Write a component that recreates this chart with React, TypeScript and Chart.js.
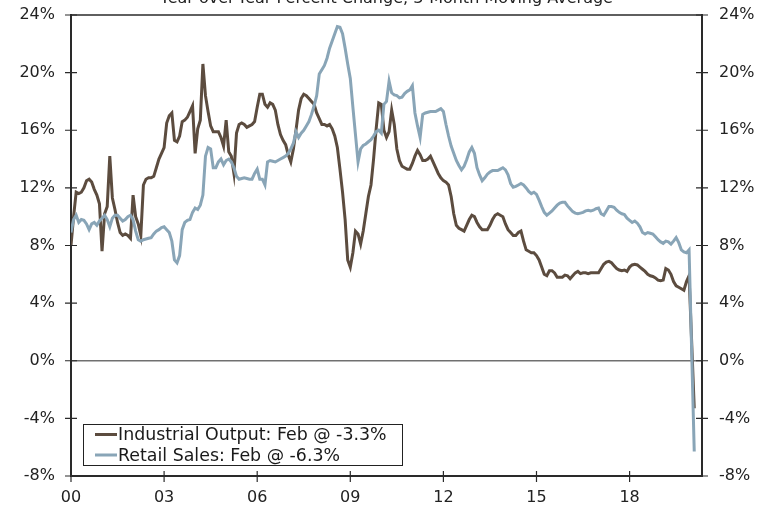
import React, { useEffect, useRef } from "react";
import { Chart, registerables } from "chart.js";

Chart.register(...registerables);

// Monthly data, Jan 2000 .. Feb 2020 (index 0 = Jan 2000). Jan 2020 not reported (null).
const industrialOutput: (number | null)[] = [
  8.0, 10.0, 11.7, 11.6, 11.7, 12.0, 12.5, 12.6, 12.4, 11.9, 11.5, 10.9,
  7.6, 10.2, 10.7, 14.2, 11.3, 10.5, 9.6, 8.9, 8.7, 8.8, 8.7, 8.5,
  11.5, 10.0, 9.5, 8.7, 12.2, 12.6, 12.7, 12.7, 12.8, 13.4, 14.0, 14.4,
  14.8, 16.5, 17.0, 17.2, 15.3, 15.2, 15.6, 16.6, 16.7, 16.9, 17.3, 17.7,
  14.4, 16.1, 16.7, 20.6, 18.4, 17.3, 16.3, 15.9, 15.9, 15.9, 15.5, 14.9,
  16.7, 14.5, 14.2, 13.0, 15.8, 16.4, 16.5, 16.4, 16.2, 16.3, 16.4, 16.6,
  17.6, 18.5, 18.5, 17.8, 17.6, 17.9, 17.8, 17.4, 16.4, 15.7, 15.3, 15.0,
  14.3, 13.8, 14.7, 16.0, 17.4, 18.2, 18.5, 18.4, 18.2, 18.0, 17.8, 17.2,
  16.8, 16.4, 16.4, 16.3, 16.4, 16.1, 15.6, 14.8, 13.3, 11.7, 9.8, 7.0,
  6.5, 7.5, 9.0, 8.8, 8.1, 9.0, 10.2, 11.4, 12.2, 14.0, 16.1, 17.9,
  17.8, 16.0, 15.5, 15.9, 17.4, 16.4, 14.7, 13.9, 13.5, 13.4, 13.3, 13.3,
  13.7, 14.2, 14.6, 14.3, 13.9, 13.9, 14.0, 14.2, 13.8, 13.4, 13.0, 12.7,
  12.5, 12.4, 12.2, 11.4, 10.2, 9.4, 9.2, 9.1, 9.0, 9.4, 9.8, 10.1,
  10.0, 9.6, 9.3, 9.1, 9.1, 9.1, 9.4, 9.8, 10.1, 10.2, 10.1, 10.0,
  9.5, 9.1, 8.9, 8.7, 8.7, 8.9, 9.0, 8.3, 7.7, 7.6, 7.5, 7.5,
  7.3, 7.0, 6.5, 6.0, 5.9, 6.25, 6.25, 6.1, 5.8, 5.8, 5.8, 5.95,
  5.9, 5.7, 5.9, 6.1, 6.2, 6.05, 6.1, 6.1, 6.05, 6.1, 6.1, 6.1,
  6.1, 6.4, 6.7, 6.85, 6.9, 6.8, 6.6, 6.4, 6.3, 6.25, 6.3, 6.2,
  6.5, 6.65, 6.7, 6.65, 6.5, 6.35, 6.2, 6.0, 5.9, 5.85, 5.75, 5.6,
  5.55, 5.6, 6.4, 6.3, 6.0, 5.5, 5.2, 5.1, 5.0, 4.9, 5.5, 5.9,
  null, -3.3,
];

const retailSales: (number | null)[] = [
  8.9, 9.8, 10.1, 9.6, 9.8, 9.75, 9.5, 9.1, 9.5, 9.6, 9.4, 9.7,
  9.9, 10.1, 9.8, 9.3, 9.9, 10.1, 10.1, 9.9, 9.7, 9.8, 10.0, 10.1,
  9.8, 9.0, 8.4, 8.3, 8.4, 8.45, 8.5, 8.55, 8.8, 9.0, 9.1, 9.25,
  9.3, 9.1, 8.9, 8.3, 7.0, 6.8, 7.3, 9.1, 9.6, 9.75, 9.8, 10.3,
  10.6, 10.5, 10.8, 11.5, 14.2, 14.8, 14.7, 13.4, 13.4, 13.8, 14.0, 13.6,
  13.9, 14.0, 13.8, 13.4, 12.8, 12.6, 12.65, 12.7, 12.65, 12.6, 12.6, 13.0,
  13.3, 12.6, 12.6, 12.2, 13.8, 13.9, 13.85, 13.8, 13.9, 14.0, 14.1, 14.2,
  14.4, 14.7, 15.1, 15.9, 15.5, 15.8, 16.0, 16.3, 16.6, 17.1, 17.7, 18.4,
  19.9, 20.2, 20.5, 21.0, 21.7, 22.2, 22.7, 23.2, 23.15, 22.7, 21.7, 20.6,
  19.6, 17.6, 15.7, 13.8, 14.7, 14.95, 15.05, 15.2, 15.35, 15.6, 15.9, 16.0,
  15.8, 17.8, 18.0, 19.4, 18.6, 18.45, 18.4, 18.25, 18.3, 18.55, 18.7, 18.8,
  19.1, 17.2, 16.3, 15.5, 17.1, 17.2, 17.25, 17.3, 17.3, 17.3, 17.4, 17.5,
  17.3, 16.4, 15.6, 14.9, 14.4, 13.9, 13.55, 13.25, 13.5, 13.95, 14.5, 14.8,
  14.4, 13.4, 12.9, 12.5, 12.7, 12.95, 13.1, 13.2, 13.2, 13.2, 13.3, 13.4,
  13.25, 12.9, 12.3, 12.05, 12.1, 12.2, 12.3, 12.2, 12.0, 11.75, 11.6, 11.7,
  11.55, 11.15, 10.7, 10.3, 10.1, 10.25, 10.4, 10.6, 10.8, 10.95, 11.0, 11.0,
  10.75, 10.55, 10.35, 10.25, 10.2, 10.25, 10.3, 10.4, 10.45, 10.4, 10.45, 10.55,
  10.6, 10.2, 10.1, 10.4, 10.7, 10.7, 10.65, 10.45, 10.3, 10.2, 10.15, 9.9,
  9.75, 9.6, 9.7, 9.55, 9.3, 8.9, 8.8, 8.9, 8.85, 8.8, 8.6, 8.4,
  8.25, 8.15, 8.3, 8.25, 8.1, 8.3, 8.55, 8.2, 7.7, 7.55, 7.5, 7.7,
  null, -6.3,
];

const START_YEAR = 2000;
const X_MAX_MONTHS = 244; // axis runs to spring 2020
const xTickYears = [2000, 2003, 2006, 2009, 2012, 2015, 2018];
const yTickValues = [-8, -4, 0, 4, 8, 12, 16, 20, 24];
const titleText = "Year-over-Year Percent Change, 3-Month Moving Average";
const seriesLabels = ["Industrial Output: Feb @ -3.3%", "Retail Sales: Feb @ -6.3%"];

const FONT = '"DejaVu Sans", Verdana, sans-serif';
const BROWN = "#5C4C3F";
const BLUE = "#89A5B7";
const AXIS = "#2a2a2a";

const toPoints = (arr: (number | null)[]) =>
  arr
    .map((v, i) => (v === null ? null : { x: i, y: v }))
    .filter((p) => p !== null) as { x: number; y: number }[];

const decorPlugin = {
  id: "decor",
  afterDraw(chart: any) {
    const { ctx, chartArea, scales } = chart;
    const { left, right, top, bottom } = chartArea;
    const xs = scales.x;
    const ys = scales.y;
    ctx.save();
    // top frame line
    ctx.strokeStyle = AXIS;
    ctx.lineWidth = 1.5;
    ctx.beginPath();
    ctx.moveTo(left, top);
    ctx.lineTo(right, top);
    ctx.stroke();
    // crossing tick marks
    ctx.lineWidth = 1.2;
    yTickValues.forEach((v) => {
      const py = ys.getPixelForValue(v);
      ctx.beginPath();
      ctx.moveTo(left - 6, py);
      ctx.lineTo(left + 6, py);
      ctx.moveTo(right - 6, py);
      ctx.lineTo(right + 6, py);
      ctx.stroke();
    });
    xTickYears.forEach((yr) => {
      const px = xs.getPixelForValue((yr - START_YEAR) * 12);
      ctx.beginPath();
      ctx.moveTo(px, bottom - 5);
      ctx.lineTo(px, bottom + 6);
      ctx.stroke();
    });
    // title (partly cut off at the top, as in the source)
    ctx.fillStyle = "#222";
    ctx.font = `16px ${FONT}`;
    ctx.textAlign = "center";
    ctx.textBaseline = "alphabetic";
    ctx.fillText(titleText, (left + right) / 2, 3);
    // legend box
    const bx = left + 12;
    const by = bottom - 52;
    const bw = 319;
    const bh = 41;
    ctx.fillStyle = "#fff";
    ctx.fillRect(bx, by, bw, bh);
    ctx.strokeStyle = "#222";
    ctx.lineWidth = 1;
    ctx.strokeRect(Math.round(bx) + 0.5, Math.round(by) + 0.5, bw, bh);
    const colors = [BROWN, BLUE];
    ctx.font = `17.4px ${FONT}`;
    ctx.textAlign = "left";
    ctx.textBaseline = "middle";
    seriesLabels.forEach((lab, i) => {
      const cy = by + 10.5 + i * 20.5;
      ctx.strokeStyle = colors[i];
      ctx.lineWidth = 3;
      ctx.beginPath();
      ctx.moveTo(bx + 12, cy);
      ctx.lineTo(bx + 34, cy);
      ctx.stroke();
      ctx.fillStyle = "#1a1a1a";
      ctx.fillText(lab, bx + 35, cy + 1);
    });
    ctx.restore();
  },
};

export default function App() {
  const ref = useRef<HTMLCanvasElement | null>(null);

  useEffect(() => {
    if (!ref.current) return;
    const yTickCommon = {
      min: -8,
      max: 24,
      ticks: {
        stepSize: 4,
        color: "#222",
        font: { family: FONT, size: 16 },
        callback: (v: any) => `${v}%`,
      },
    };
    const fitY = (w: number) => (scale: any) => {
      scale.width = w;
      scale.paddingTop = 0;
      scale.paddingBottom = 0;
    };
    const chart = new Chart(ref.current, {
      type: "line",
      data: {
        datasets: [
          {
            label: seriesLabels[1],
            data: toPoints(retailSales),
            borderColor: BLUE,
            borderWidth: 3,
            pointRadius: 0,
            tension: 0,
            order: 0,
          },
          {
            label: seriesLabels[0],
            data: toPoints(industrialOutput),
            borderColor: BROWN,
            borderWidth: 3,
            pointRadius: 0,
            tension: 0,
            order: 1,
          },
        ],
      },
      options: {
        responsive: false,
        animation: false,
        devicePixelRatio: 1,
        layout: { padding: { top: 15, left: 0, right: 0, bottom: 0 } },
        plugins: { legend: { display: false }, title: { display: false }, tooltip: { enabled: false } },
        scales: {
          x: {
            type: "linear",
            min: 0,
            max: X_MAX_MONTHS,
            grid: { display: false, drawTicks: false },
            border: { display: true, color: AXIS, width: 2 },
            afterBuildTicks: (scale: any) => {
              scale.ticks = xTickYears.map((yr) => ({ value: (yr - START_YEAR) * 12 }));
            },
            afterFit: (scale: any) => {
              scale.height = 29;
              scale.paddingLeft = 0;
              scale.paddingRight = 0;
            },
            ticks: {
              color: "#222",
              font: { family: FONT, size: 16 },
              padding: 12,
              maxRotation: 0,
              autoSkip: false,
              callback: (v: any) => String((START_YEAR + Math.round(Number(v) / 12)) % 100).padStart(2, "0"),
            },
          },
          y: {
            ...yTickCommon,
            position: "left",
            grid: {
              drawTicks: false,
              color: (c: any) => (c.tick && c.tick.value === 0 ? "#707070" : "rgba(0,0,0,0)"),
              lineWidth: 1.5,
            },
            border: { display: true, color: AXIS, width: 2 },
            ticks: { ...yTickCommon.ticks, padding: 16 },
            afterFit: fitY(71),
          },
          y1: {
            ...yTickCommon,
            position: "right",
            grid: { display: false, drawTicks: false },
            border: { display: true, color: AXIS, width: 2 },
            ticks: { ...yTickCommon.ticks, padding: 17 },
            afterFit: fitY(68),
          },
        },
      } as any,
      plugins: [decorPlugin],
    });
    return () => chart.destroy();
  }, []);

  return (
    <div style={{ position: "fixed", left: 0, top: 0, width: 770, height: 505, background: "#fff" }}>
      <canvas ref={ref} width={770} height={505} style={{ display: "block" }} />
    </div>
  );
}
